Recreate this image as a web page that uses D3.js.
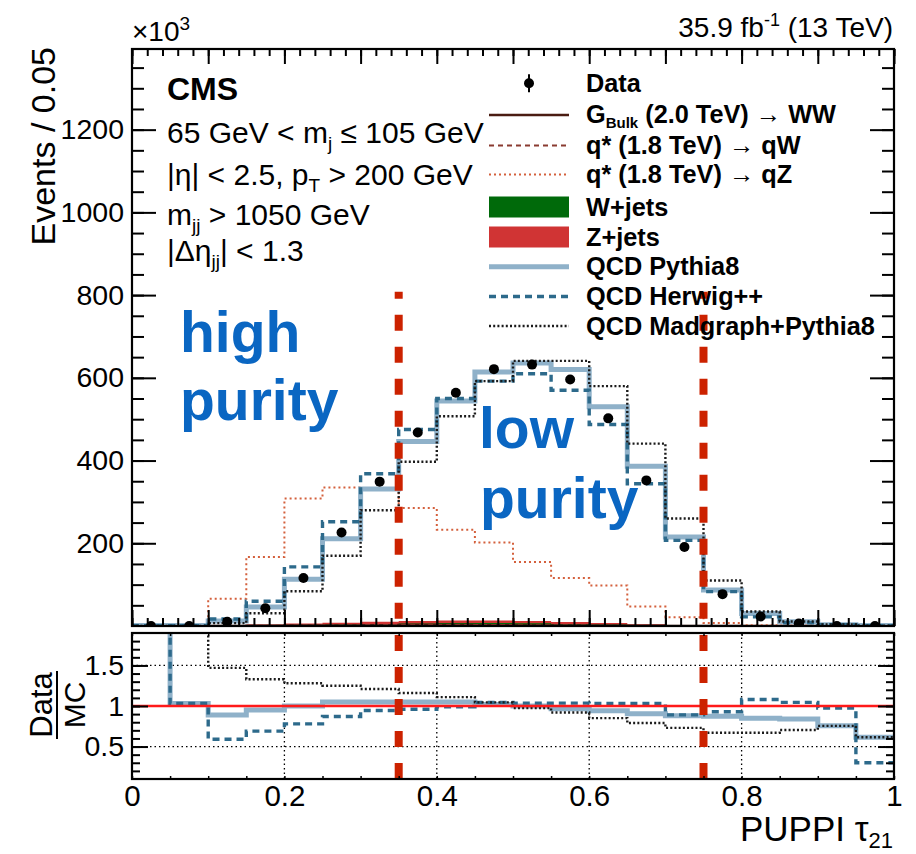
<!DOCTYPE html>
<html>
<head>
<meta charset="utf-8">
<script src="https://cdn.jsdelivr.net/npm/d3@7"></script>
<style>
	html, body { margin: 0; padding: 0; background: #fff; }
	svg text { font-family: 'Liberation Sans', Arial, Helvetica, sans-serif; fill: #000; }
</style>
</head>
<body>
<div id="canvas"></div>
<script>
// bin edges of PUPPI tau21 (20 bins of 0.05)
const binEdges = [0, 0.05, 0.1, 0.15, 0.2, 0.25, 0.3, 0.35, 0.4, 0.45, 0.5, 0.55, 0.6, 0.65, 0.7, 0.75, 0.8, 0.85, 0.9, 0.95, 1];
const binCenters = [0.025, 0.075, 0.125, 0.175, 0.225, 0.275, 0.325, 0.375, 0.425, 0.475, 0.525, 0.575, 0.625, 0.675, 0.725, 0.775, 0.825, 0.875, 0.925, 0.975];

// events / 0.05 (x10^3)
const dataVals = [0, 0, 10, 43, 116, 226, 349, 468, 564, 621, 632, 596, 502, 352, 191, 77, 23, 6, 0, 0];
const qcdPythia = [1, 1, 12, 46, 113, 211, 331, 446, 544, 614, 636, 620, 530, 386, 215, 87, 30, 10, 3, 1];
const qcdHerwig = [1, 1, 17, 60, 143, 252, 368, 475, 550, 592, 610, 570, 487, 344, 207, 83, 22, 8, 3, 1];
const qcdMadgraph = [0, 0, 7, 31, 84, 170, 280, 397, 507, 592, 641, 641, 580, 441, 260, 110, 35, 11, 4, 1];
const qStarQZ = [0, 3, 66, 167, 308, 335, 333, 285, 233, 202, 155, 116, 98, 47, 21, 7, 2, 1, 0, 0];
const qStarQW = [0, 0, 0.2, 0.5, 1, 1.5, 2, 2, 2, 2, 1.5, 1, 0.8, 0.5, 0.3, 0.2, 0, 0, 0, 0];
const gBulkWW = [0, 0, 0.2, 0.5, 1, 1.5, 2, 2.5, 2.5, 2, 1.5, 1, 0.8, 0.5, 0.3, 0.2, 0, 0, 0, 0];
const wJets = [0, 0, 0.5, 1.5, 2.5, 3.5, 5, 6, 7, 7, 6.5, 5, 3.5, 2, 1, 0.5, 0.2, 0, 0, 0];
const zJets = [0, 0, 1, 2, 3.5, 4.5, 5, 6, 6, 6, 5.5, 4.5, 3.5, 2.5, 1.5, 1, 0.5, 0.2, 0, 0];

// Data / MC (first bins run off the top of the pad)
const ratioPythia = [3, 1.03, 0.89, 0.95, 1.0, 1.05, 1.05, 1.05, 1.05, 1.02, 1.0, 0.965, 0.94, 0.905, 0.88, 0.875, 0.85, 0.84, 0.755, 0.615];
const ratioHerwig = [3, 1.03, 0.59, 0.69, 0.78, 0.87, 0.945, 0.96, 0.99, 1.045, 1.035, 1.035, 1.03, 1.03, 0.89, 0.93, 1.08, 1.045, 0.975, 0.3];
const ratioMadgraph = [3, 3, 1.47, 1.33, 1.28, 1.25, 1.21, 1.16, 1.11, 1.045, 0.975, 0.92, 0.85, 0.79, 0.73, 0.67, 0.67, 0.705, 0.755, 0.615];

const mainYTicks = [200, 400, 600, 800, 1000, 1200];
const ratioYTicks = [0.5, 1, 1.5];
const xTickLabels = [0, 0.2, 0.4, 0.6, 0.8, 1];
const cutValues = [0.35, 0.75];

const width = 916, height = 854;
const frame = { left: 132, right: 894, top: 49, bottom: 626, rTop: 633, rBottom: 779 };

const svg = d3.select('#canvas').append('svg').attr('width', width).attr('height', height);

const x = d3.scaleLinear().domain([0, 1]).range([frame.left, frame.right]);
const y = d3.scaleLinear().domain([0, 1395]).range([frame.bottom, frame.top]);
const yr = d3.scaleLinear().domain([0.1, 1.9]).range([frame.rBottom, frame.rTop]);

const defs = svg.append('defs');
defs.append('clipPath').attr('id', 'clipMain').append('rect')
	.attr('x', frame.left).attr('y', frame.top).attr('width', frame.right - frame.left).attr('height', frame.bottom - frame.top);
defs.append('clipPath').attr('id', 'clipRatio').append('rect')
	.attr('x', frame.left).attr('y', frame.rTop).attr('width', frame.right - frame.left).attr('height', frame.rBottom - frame.rTop);

const stepPts = vals => binEdges.map((e, i) => [e, vals[Math.min(i, vals.length - 1)]]);
const stepLine = scale => d3.line().curve(d3.curveStepAfter).x(d => x(d[0])).y(d => scale(d[1]));

const styles = {
	gBulk: { stroke: '#4a1c12', width: 2.5, dash: null },
	qW: { stroke: '#8a3b30', width: 2, dash: '5,4' },
	qZ: { stroke: '#d4603c', width: 2, dash: '2,3' },
	pythia: { stroke: '#8fb1c9', width: 5, dash: null },
	herwig: { stroke: '#2d6a8b', width: 3.4, dash: '7,5' },
	madgraph: { stroke: '#1a1a1a', width: 2.4, dash: '2,2.2' },
};

function drawStep(g, vals, scale, st) {
	g.append('path')
		.attr('d', stepLine(scale)(stepPts(vals)))
		.attr('fill', 'none')
		.attr('stroke', st.stroke)
		.attr('stroke-width', st.width)
		.attr('stroke-dasharray', st.dash);
}

// ---------- main pad ----------
const mainG = svg.append('g').attr('clip-path', 'url(#clipMain)');

const wzStack = wJets.map((w, i) => ({ w, z: w + zJets[i] }));
const area = d3.area().curve(d3.curveStepAfter).x(d => x(d[0]));
mainG.append('path')
	.attr('d', area.y0(y(0)).y1(d => y(d[1]))(stepPts(wzStack.map(d => d.z))))
	.attr('fill', '#d03434');
mainG.append('path')
	.attr('d', area.y0(y(0)).y1(d => y(d[1]))(stepPts(wzStack.map(d => d.w))))
	.attr('fill', '#006a0a');

drawStep(mainG, gBulkWW, y, styles.gBulk);
drawStep(mainG, qStarQW, y, styles.qW);
drawStep(mainG, qStarQZ, y, styles.qZ);
drawStep(mainG, qcdPythia, y, styles.pythia);
drawStep(mainG, qcdHerwig, y, styles.herwig);
drawStep(mainG, qcdMadgraph, y, styles.madgraph);

mainG.selectAll('.dot').data(dataVals).join('circle')
	.attr('class', 'dot')
	.attr('cx', (d, i) => x(binCenters[i]))
	.attr('cy', d => y(d))
	.attr('r', 5)
	.attr('fill', '#000');

// ---------- ratio pad ----------
const ratioG = svg.append('g').attr('clip-path', 'url(#clipRatio)');
[0.2, 0.4, 0.6, 0.8].forEach(v => {
	ratioG.append('line').attr('x1', x(v)).attr('x2', x(v)).attr('y1', frame.rTop).attr('y2', frame.rBottom)
		.attr('stroke', '#000').attr('stroke-width', 1.3).attr('stroke-dasharray', '1.5,3');
});
[0.5, 1.5].forEach(v => {
	ratioG.append('line').attr('x1', frame.left).attr('x2', frame.right).attr('y1', yr(v)).attr('y2', yr(v))
		.attr('stroke', '#000').attr('stroke-width', 1.3).attr('stroke-dasharray', '1.5,3');
});
drawStep(ratioG, ratioPythia, yr, styles.pythia);
drawStep(ratioG, ratioHerwig, yr, styles.herwig);
drawStep(ratioG, ratioMadgraph, yr, styles.madgraph);
ratioG.append('line').attr('x1', frame.left).attr('x2', frame.right).attr('y1', yr(1)).attr('y2', yr(1))
	.attr('stroke', '#ff1a1a').attr('stroke-width', 2.5);

// ---------- cut lines ----------
cutValues.forEach(c => {
	svg.append('line').attr('x1', x(c)).attr('x2', x(c)).attr('y1', y(808)).attr('y2', frame.bottom)
		.attr('stroke', '#cc2200').attr('stroke-width', 8).attr('stroke-dasharray', '16,16').attr('stroke-dashoffset', 9);
	svg.append('line').attr('x1', x(c)).attr('x2', x(c)).attr('y1', frame.rTop + 2).attr('y2', frame.rBottom)
		.attr('stroke', '#cc2200').attr('stroke-width', 8).attr('stroke-dasharray', '16,16');
});

// ---------- axes ----------
const fmt = d => (d === 0 || d === 1) ? String(d) : d3.format('.1f')(d);
function styleAxis(g, w, size) {
	g.select('.domain').remove();
	g.selectAll('.tick line').attr('stroke', '#000').attr('stroke-width', w || 2);
	g.selectAll('.tick text').attr('font-size', size || 28).attr('fill', '#000');
}
const minorMainY = d3.range(50, 1395, 50);
const minorX = d3.range(0, 1.0001, 0.02);
const majorX = d3.range(0, 1.0001, 0.1);
const minorRatioY = d3.range(0.2, 1.85, 0.1);

svg.append('g').attr('transform', `translate(${frame.left},0)`)
	.call(d3.axisLeft(y).tickValues(minorMainY).tickSize(-12).tickFormat('')).call(styleAxis);
svg.append('g').attr('transform', `translate(${frame.left},0)`)
	.call(d3.axisLeft(y).tickValues(mainYTicks).tickSize(-24).tickPadding(8).tickFormat(d3.format('d')))
	.call(g => styleAxis(g, 2, 28.5));
svg.append('g').attr('transform', `translate(${frame.right},0)`)
	.call(d3.axisRight(y).tickValues(minorMainY).tickSize(-12).tickFormat('')).call(styleAxis);
svg.append('g').attr('transform', `translate(${frame.right},0)`)
	.call(d3.axisRight(y).tickValues(mainYTicks).tickSize(-24).tickFormat('')).call(styleAxis);

svg.append('g').attr('transform', `translate(0,${frame.top})`)
	.call(d3.axisBottom(x).tickValues(minorX).tickSize(7).tickFormat('')).call(styleAxis);
svg.append('g').attr('transform', `translate(0,${frame.top})`)
	.call(d3.axisBottom(x).tickValues(majorX).tickSize(15).tickFormat('')).call(styleAxis);
svg.append('g').attr('transform', `translate(0,${frame.bottom})`)
	.call(d3.axisTop(x).tickValues(minorX).tickSize(8).tickFormat('')).call(styleAxis);
svg.append('g').attr('transform', `translate(0,${frame.bottom})`)
	.call(d3.axisTop(x).tickValues(majorX).tickSize(16).tickFormat('')).call(styleAxis);

svg.append('g').attr('transform', `translate(${frame.left},0)`)
	.call(d3.axisLeft(yr).tickValues(minorRatioY).tickSize(-8).tickFormat('')).call(styleAxis);
svg.append('g').attr('transform', `translate(${frame.left},0)`)
	.call(d3.axisLeft(yr).tickValues(ratioYTicks).tickSize(-16).tickPadding(8).tickFormat(d => String(d)))
	.call(g => styleAxis(g, 2, 28.5));
svg.append('g').attr('transform', `translate(${frame.right},0)`)
	.call(d3.axisRight(yr).tickValues(minorRatioY).tickSize(-8).tickFormat('')).call(styleAxis);
svg.append('g').attr('transform', `translate(${frame.right},0)`)
	.call(d3.axisRight(yr).tickValues(ratioYTicks).tickSize(-16).tickFormat('')).call(styleAxis);
svg.append('g').attr('transform', `translate(0,${frame.rBottom})`)
	.call(d3.axisBottom(x).tickValues(d3.range(0, 1.0001, 0.05)).tickSize(-3).tickFormat('')).call(g => styleAxis(g, 1.5));
svg.append('g').attr('transform', `translate(0,${frame.rBottom})`)
	.call(d3.axisBottom(x).tickValues(xTickLabels).tickSize(0).tickPadding(6).tickFormat(fmt))
	.call(g => styleAxis(g, 2, 29.5));
svg.append('g').attr('transform', `translate(0,${frame.rTop})`)
	.call(d3.axisTop(x).tickValues(d3.range(0, 1.0001, 0.05)).tickSize(-3).tickFormat('')).call(g => styleAxis(g, 1.5));

// frames
[[frame.top, frame.bottom], [frame.rTop, frame.rBottom]].forEach(([t, b]) => {
	svg.append('rect').attr('x', frame.left).attr('y', t).attr('width', frame.right - frame.left).attr('height', b - t)
		.attr('fill', 'none').attr('stroke', '#000').attr('stroke-width', 2.2);
});

// ---------- texts ----------
const txt = (xx, yy, size, weight) => svg.append('text').attr('x', xx).attr('y', yy)
	.attr('font-size', size).attr('font-weight', weight || 'normal');
const sub = (t, s, size, dy) => {
	t.append('tspan').text(s).attr('font-size', size).attr('dy', dy);
	return t;
};

const exp = txt(132, 41, 28);
exp.append('tspan').text('×10');
exp.append('tspan').text('3').attr('font-size', 19).attr('dy', -11);

const lumi = txt(893, 37, 28).attr('text-anchor', 'end');
lumi.append('tspan').text('35.9 fb');
lumi.append('tspan').text('-1').attr('font-size', 18).attr('dy', -11);
lumi.append('tspan').text(' (13 TeV)').attr('dy', 11);

svg.append('text').attr('transform', 'translate(55,47) rotate(-90)').attr('text-anchor', 'end')
	.attr('font-size', 34).text('Events / 0.05');

txt(167, 100, 32, 'bold').text('CMS');
const l1 = txt(167, 143, 30);
l1.append('tspan').text('65 GeV < m');
sub(l1, 'j', 19, 7);
l1.append('tspan').text(' ≤ 105 GeV').attr('dy', -7);
const l2 = txt(167, 185, 30);
l2.append('tspan').text('|η| < 2.5, p');
sub(l2, 'T', 19, 7);
l2.append('tspan').text(' > 200 GeV').attr('dy', -7);
const l3 = txt(167, 225, 30);
l3.append('tspan').text('m');
sub(l3, 'jj', 19, 7);
l3.append('tspan').text(' > 1050 GeV').attr('dy', -7);
const l4 = txt(167, 261, 30);
l4.append('tspan').text('|Δη');
sub(l4, 'jj', 19, 7);
l4.append('tspan').text('| < 1.3').attr('dy', -7);

const blue = '#0a66c2';
[['high', 180, 352], ['purity', 180, 420], ['low', 479, 448], ['purity', 480, 518]].forEach(([s, xx, yy]) => {
	txt(xx, yy, 57, 'bold').attr('fill', blue).style('fill', blue).text(s);
});

// ---------- legend ----------
const legRows = [83.3, 115, 145.5, 174.5, 207, 237, 266.7, 296.5, 326];
const legX0 = 489, legX1 = 569, legText = 586;
const leg = svg.append('g');
leg.append('circle').attr('cx', (legX0 + legX1) / 2).attr('cy', legRows[0]).attr('r', 5).attr('fill', '#000');
leg.append('line').attr('x1', (legX0 + legX1) / 2).attr('x2', (legX0 + legX1) / 2)
	.attr('y1', legRows[0] - 9).attr('y2', legRows[0] + 9).attr('stroke', '#000').attr('stroke-width', 2);
const legLines = [[1, styles.gBulk], [2, styles.qW], [3, styles.qZ], [6, styles.pythia], [7, styles.herwig], [8, styles.madgraph]];
legLines.forEach(([r, st]) => {
	leg.append('line').attr('x1', legX0).attr('x2', legX1).attr('y1', legRows[r]).attr('y2', legRows[r])
		.attr('stroke', st.stroke).attr('stroke-width', st.width).attr('stroke-dasharray', st.dash);
});
leg.append('rect').attr('x', legX0).attr('y', legRows[4] - 10.5).attr('width', legX1 - legX0).attr('height', 21).attr('fill', '#006a0a');
leg.append('rect').attr('x', legX0).attr('y', legRows[5] - 10.5).attr('width', legX1 - legX0).attr('height', 21).attr('fill', '#d03434');

const legLabels = ['Data', null, 'q* (1.8 TeV) → qW', 'q* (1.8 TeV) → qZ', 'W+jets', 'Z+jets', 'QCD Pythia8', 'QCD Herwig++', 'QCD Madgraph+Pythia8'];
legLabels.forEach((s, i) => {
	if (s) txt(legText, legRows[i] + 8.5, 25.3, 'bold').text(s);
});
const gb = txt(legText, legRows[1] + 7.5, 25.3, 'bold');
gb.append('tspan').text('G');
sub(gb, 'Bulk', 15, 5);
gb.append('tspan').text(' (2.0 TeV) → WW').attr('dy', -5);

// ---------- ratio labels ----------
svg.append('text').attr('transform', 'translate(52,705) rotate(-90)').attr('text-anchor', 'middle')
	.attr('font-size', 31).text('Data');
svg.append('text').attr('transform', 'translate(85,705) rotate(-90)').attr('text-anchor', 'middle')
	.attr('font-size', 30).text('MC');
svg.append('line').attr('x1', 57).attr('x2', 57).attr('y1', 671).attr('y2', 739).attr('stroke', '#000').attr('stroke-width', 2);

const xt = txt(893, 841, 35).attr('text-anchor', 'end');
xt.append('tspan').text('PUPPI τ');
xt.append('tspan').text('21').attr('font-size', 22).attr('dy', 7);
</script>
</body>
</html>
